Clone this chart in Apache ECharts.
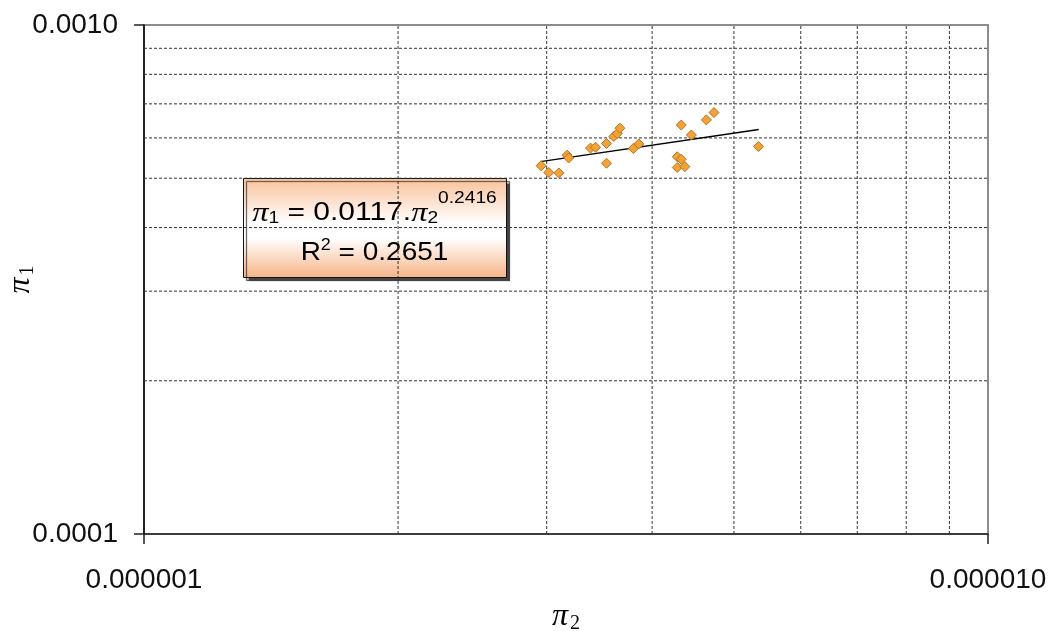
<!DOCTYPE html>
<html><head><meta charset="utf-8">
<script src="https://cdn.jsdelivr.net/npm/echarts@6/dist/echarts.min.js"></script>
<style>html,body{margin:0;padding:0;background:#fff}#c{width:1051px;height:631px}</style>
</head><body><div id="c"></div>
<script>
// Data
const xValues = [2.955e-6, 3.017e-6, 3.101e-6, 3.172e-6, 3.186e-6, 3.381e-6, 3.428e-6, 3.532e-6, 3.532e-6, 3.603e-6, 3.637e-6, 3.663e-6, 3.800e-6, 3.858e-6, 4.331e-6, 4.284e-6, 4.331e-6, 4.284e-6, 4.374e-6, 4.452e-6, 4.638e-6, 4.735e-6, 5.346e-6];
const yValues = [5.29e-4, 5.13e-4, 5.12e-4, 5.55e-4, 5.48e-4, 5.73e-4, 5.75e-4, 5.85e-4, 5.35e-4, 6.04e-4, 6.12e-4, 6.27e-4, 5.72e-4, 5.84e-4, 6.36e-4, 5.51e-4, 5.45e-4, 5.25e-4, 5.27e-4, 6.08e-4, 6.51e-4, 6.73e-4, 5.77e-4];
const trendX = [2.95e-6, 5.35e-6];
const trendY = [5.39e-4, 6.23e-4];
const xMinorGrid = [2e-6, 3e-6, 4e-6, 5e-6, 6e-6, 7e-6, 8e-6, 9e-6];
const yMinorGrid = [2e-4, 3e-4, 4e-4, 5e-4, 6e-4, 7e-4, 8e-4, 9e-4];
const xRange = [1e-6, 1e-5];
const yRange = [1e-4, 1e-3];
const eqLine1 = '{p|π}{sub|1}{t| = 0.0117.}{p|π}{sub|2}{sup|0.2416}';
const eqLine2 = '{t|R}{sup2|2}{t| = 0.2651}';

const chart = echarts.init(document.getElementById('c'), null, {renderer: 'canvas'});
const sans = 'Liberation Sans';
const serif = 'Liberation Serif';

const gridLineStyle = {type: [3, 2], color: '#333', width: 1};
const gridSeries = xMinorGrid.map(v => [[v, yRange[0]], [v, yRange[1]]])
  .concat(yMinorGrid.map(v => [[xRange[0], v], [xRange[1], v]]))
  .map(pts => ({
    type: 'line', z: 1, silent: true, showSymbol: false, symbol: 'none',
    lineStyle: gridLineStyle, emphasis: {disabled: true}, data: pts
  }));

const option = {
  backgroundColor: '#fff',
  animation: false,
  grid: {left: 144, right: 63, top: 25, bottom: 97, show: true, borderColor: '#8c8c8c', borderWidth: 2, containLabel: false, outerBoundsMode: 'none'},
  xAxis: {
    type: 'log', logBase: 10, min: xRange[0], max: xRange[1],
    axisLine: {show: true, onZero: false, lineStyle: {color: '#222', width: 1.5}},
    axisTick: {show: true, length: 10, lineStyle: {color: '#222', width: 1.5}},
    axisLabel: {fontSize: 28, fontFamily: sans, color: '#111', margin: 32, formatter: v => Number(v).toFixed(6)},
    splitLine: {show: false},
    name: '{p|π}{s|2}', nameLocation: 'middle', nameGap: 66, nameMoveOverlap: false,
    nameTextStyle: {rich: {
      p: {fontFamily: serif, fontStyle: 'italic', fontSize: 32, color: '#000'},
      s: {fontFamily: serif, fontSize: 20, color: '#000', padding: [14, 0, 0, 2]}
    }}
  },
  yAxis: {
    type: 'log', logBase: 10, min: yRange[0], max: yRange[1],
    axisLine: {show: true, onZero: false, lineStyle: {color: '#000', width: 1.5}},
    axisTick: {show: true, length: 10, lineStyle: {color: '#222', width: 1.5}},
    axisLabel: {fontSize: 28, fontFamily: sans, color: '#111', margin: 26, formatter: v => Number(v).toFixed(4)},
    splitLine: {show: false},
    name: '{p|π}{s|1}', nameLocation: 'middle', nameGap: 106, nameRotate: 90, nameMoveOverlap: false,
    nameTextStyle: {rich: {
      p: {fontFamily: serif, fontStyle: 'italic', fontSize: 32, color: '#000'},
      s: {fontFamily: serif, fontSize: 20, color: '#000', padding: [14, 0, 0, 2]}
    }}
  },
  series: gridSeries.concat([
    {
      type: 'line', z: 2, silent: true, showSymbol: false, symbol: 'none',
      lineStyle: {color: '#000', width: 1.5},
      data: trendX.map((x, i) => [x, trendY[i]])
    },
    {
      type: 'scatter', z: 3, symbol: 'diamond', symbolSize: 10,
      itemStyle: {color: '#f2a236', borderColor: '#b9731f', borderWidth: 1, opacity: 1},
      data: xValues.map((x, i) => [x, yValues[i]])
    }
  ]),
  graphic: [{
    type: 'group', left: 243, top: 178, z: 10,
    children: [
      {type: 'rect', shape: {x: 0, y: 0, width: 263, height: 99},
        style: {fill: new echarts.graphic.LinearGradient(0, 0, 0, 1, [
          {offset: 0, color: '#f9c19a'}, {offset: 0.45, color: '#ffffff'}, {offset: 0.6, color: '#ffffff'}, {offset: 1, color: '#f6b385'}]),
          stroke: '#111', lineWidth: 1, shadowColor: '#444', shadowOffsetX: 3, shadowOffsetY: 3, shadowBlur: 1}},
      {type: 'text', x: 131, y: 35, scaleX: 1.2, style: {text: eqLine1, align: 'center', verticalAlign: 'middle', rich: {
        t: {fontFamily: sans, fontSize: 25, fill: '#000'},
        p: {fontFamily: serif, fontStyle: 'italic', fontSize: 27, fill: '#000'},
        sub: {fontFamily: sans, fontSize: 16, fill: '#000', padding: [10, 0, 0, 0]},
        sup: {fontFamily: sans, fontSize: 16, fill: '#000', padding: [0, 0, 30, 0]}
      }}},
      {type: 'text', x: 131, y: 75, scaleX: 1.12, style: {text: eqLine2, align: 'center', verticalAlign: 'middle', rich: {
        t: {fontFamily: sans, fontSize: 25, fill: '#000'},
        sup2: {fontFamily: sans, fontSize: 16, fill: '#000', padding: [0, 0, 15, 0]}
      }}}
    ]
  }]
};
chart.setOption(option);
</script>
</body></html>
